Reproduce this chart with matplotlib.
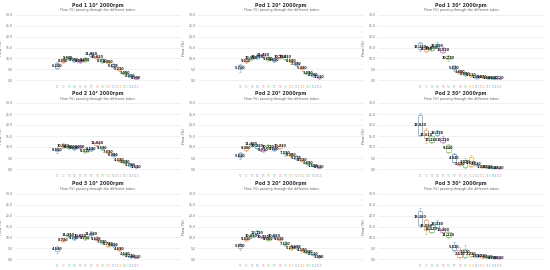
import matplotlib
matplotlib.use("Agg")
import matplotlib.pyplot as plt

plt.rcParams['font.family'] = ['DejaVu Sans']

# ---- data -------------------------------------------------------------
tubes = [f"T{i}" for i in range(1, 16)]
angles = ["10°", "20°", "30°"]
pods = ["Pod 1", "Pod 2", "Pod 3"]

pod1_10_med = [6.28, 8.99, 9.94, 9.05, 8.80, 9.40, 11.86, 10.62, 8.91, 8.35, 6.62, 5.21, 3.05, 2.01, 0.99]
pod1_10_q1 = [5.7, 8.5, 9.5, 8.6, 8.3, 8.9, 11.2, 10.0, 8.4, 7.8, 6.1, 4.7, 2.6, 1.6, 0.7]
pod1_10_q3 = [7.8, 9.6, 10.6, 9.6, 9.3, 10.0, 12.5, 11.3, 9.5, 8.9, 7.2, 5.7, 3.5, 2.4, 1.3]
pod1_10_lo = [4.9, 8.0, 9.1, 8.2, 7.9, 8.5, 10.7, 9.5, 7.9, 7.3, 5.6, 4.2, 2.2, 1.3, 0.5]
pod1_10_hi = [8.5, 10.1, 11.1, 10.1, 9.8, 10.5, 13.1, 11.8, 10.0, 9.4, 7.7, 6.2, 4.0, 2.8, 1.6]

pod1_20_med = [5.76, 9.01, 10.14, 10.76, 11.42, 9.88, 9.31, 10.78, 10.41, 8.62, 7.33, 5.42, 3.23, 2.29, 1.21]
pod1_20_q1 = [4.9, 8.5, 9.7, 10.3, 10.9, 9.4, 8.8, 10.2, 9.9, 8.1, 6.8, 4.9, 2.8, 1.9, 0.9]
pod1_20_q3 = [6.9, 9.5, 10.7, 11.3, 12.0, 10.4, 9.8, 11.4, 11.0, 9.2, 7.9, 6.0, 3.7, 2.7, 1.5]
pod1_20_lo = [3.8, 8.0, 9.2, 9.8, 10.4, 8.9, 8.3, 9.7, 9.4, 7.6, 6.3, 4.4, 2.4, 1.6, 0.6]
pod1_20_hi = [7.6, 10.0, 11.2, 11.8, 12.5, 10.9, 10.3, 11.9, 11.5, 9.7, 8.4, 6.5, 4.1, 3.0, 1.8]

pod1_30_med = [15.35, 14.41, 14.69, 15.80, 13.82, 10.23, 5.63, 3.60, 2.88, 2.11, 1.35, 1.62, 1.04, 0.86, 0.72]
pod1_30_q1 = [14.3, 13.6, 14.0, 15.2, 13.0, 9.5, 5.0, 3.1, 2.4, 1.7, 1.0, 1.3, 0.8, 0.6, 0.5]
pod1_30_q3 = [16.9, 15.3, 15.4, 16.6, 14.8, 11.0, 6.3, 4.1, 3.3, 2.5, 1.7, 1.9, 1.3, 1.1, 0.9]
pod1_30_lo = [13.5, 13.0, 13.5, 14.7, 12.3, 9.0, 4.4, 2.7, 2.0, 1.4, 0.7, 1.0, 0.6, 0.4, 0.3]
pod1_30_hi = [17.6, 15.9, 16.0, 17.4, 15.4, 11.6, 6.8, 4.5, 3.7, 2.9, 2.0, 2.2, 1.6, 1.3, 1.1]

pod2_10_med = [8.55, 10.63, 10.09, 9.63, 9.91, 8.31, 9.13, 11.64, 9.53, 7.61, 6.38, 4.12, 3.03, 1.78, 1.11]
pod2_10_q1 = [8.0, 10.1, 9.6, 9.2, 9.4, 7.8, 8.6, 11.0, 9.0, 7.1, 5.9, 3.6, 2.6, 1.4, 0.8]
pod2_10_q3 = [9.2, 11.2, 10.6, 10.1, 10.4, 8.9, 9.7, 12.3, 10.1, 8.2, 6.9, 4.6, 3.5, 2.2, 1.4]
pod2_10_lo = [7.5, 9.6, 9.1, 8.7, 8.9, 7.3, 8.1, 10.5, 8.5, 6.6, 5.4, 3.1, 2.2, 1.1, 0.6]
pod2_10_hi = [9.7, 11.7, 11.1, 10.6, 10.9, 9.4, 10.2, 12.8, 10.6, 8.7, 7.4, 5.1, 3.9, 2.5, 1.7]

pod2_20_med = [5.84, 9.35, 11.30, 10.23, 8.71, 10.21, 9.12, 10.23, 7.11, 6.38, 5.21, 4.12, 2.63, 1.52, 0.83]
pod2_20_q1 = [5.3, 8.8, 10.8, 9.7, 8.2, 9.7, 8.6, 9.7, 6.6, 5.9, 4.7, 3.6, 2.2, 1.2, 0.5]
pod2_20_q3 = [7.2, 9.9, 11.8, 10.8, 9.2, 10.7, 9.7, 10.8, 7.7, 6.9, 5.7, 4.6, 3.1, 1.9, 1.1]
pod2_20_lo = [4.6, 8.3, 10.3, 9.2, 7.7, 9.2, 8.1, 9.2, 6.1, 5.4, 4.2, 3.1, 1.8, 0.9, 0.3]
pod2_20_hi = [7.8, 10.4, 12.3, 11.3, 9.7, 11.2, 10.2, 11.3, 8.2, 7.4, 6.2, 5.1, 3.5, 2.2, 1.3]

pod2_30_med = [19.83, 15.51, 13.25, 16.33, 13.22, 9.44, 4.93, 2.13, 3.02, 2.81, 2.11, 1.02, 0.83, 0.61, 0.52]
pod2_30_q1 = [15.5, 14.0, 12.5, 15.5, 12.5, 7.9, 3.3, 1.6, 1.0, 1.5, 1.7, 0.7, 0.6, 0.4, 0.3]
pod2_30_q3 = [24.6, 17.8, 14.8, 17.3, 14.3, 11.0, 6.7, 2.6, 4.1, 5.6, 2.5, 1.3, 1.1, 0.8, 0.7]
pod2_30_lo = [14.8, 11.7, 12.0, 15.0, 12.0, 7.4, 2.8, 1.2, 0.6, 1.0, 1.3, 0.5, 0.4, 0.2, 0.1]
pod2_30_hi = [25.4, 18.5, 15.3, 17.8, 14.8, 11.5, 7.2, 3.0, 4.8, 6.4, 2.9, 1.6, 1.3, 1.0, 0.9]

pod3_10_med = [4.53, 8.72, 11.21, 9.73, 10.62, 9.71, 11.68, 9.42, 7.93, 6.71, 6.42, 4.63, 2.13, 1.22, 0.81]
pod3_10_q1 = [3.9, 8.2, 10.7, 9.2, 10.1, 9.2, 11.1, 8.9, 7.4, 6.2, 5.9, 4.1, 1.7, 0.9, 0.5]
pod3_10_q3 = [5.3, 9.3, 11.7, 10.2, 11.1, 10.2, 12.2, 9.9, 8.4, 7.2, 6.9, 5.1, 2.6, 1.6, 1.1]
pod3_10_lo = [2.8, 7.7, 10.2, 8.7, 9.6, 8.7, 10.6, 8.4, 6.9, 5.7, 5.4, 3.6, 1.3, 0.6, 0.3]
pod3_10_hi = [5.8, 9.8, 12.2, 10.7, 11.6, 10.7, 12.7, 10.4, 8.9, 7.7, 7.4, 5.6, 3.0, 1.9, 1.3]

pod3_20_med = [5.95, 9.41, 10.63, 12.19, 10.22, 9.38, 10.62, 9.41, 7.12, 5.23, 5.63, 4.12, 3.03, 2.11, 1.09]
pod3_20_q1 = [5.3, 8.9, 10.1, 11.6, 9.7, 8.9, 10.1, 8.9, 6.6, 4.7, 5.1, 3.6, 2.6, 1.7, 0.8]
pod3_20_q3 = [6.9, 9.9, 11.2, 12.8, 10.7, 9.9, 11.2, 9.9, 7.6, 5.8, 6.1, 4.6, 3.5, 2.5, 1.4]
pod3_20_lo = [4.4, 8.4, 9.6, 11.1, 9.2, 8.4, 9.6, 8.4, 6.1, 4.2, 4.6, 3.1, 2.2, 1.4, 0.6]
pod3_20_hi = [7.5, 10.4, 11.7, 13.3, 11.2, 10.4, 11.7, 10.4, 8.1, 6.3, 6.6, 5.1, 3.9, 2.8, 1.7]

pod3_30_med = [19.30, 15.05, 14.02, 16.33, 13.20, 11.22, 5.61, 2.51, 3.22, 2.21, 1.51, 1.22, 0.81, 0.70, 0.61]
pod3_30_q1 = [15.5, 13.2, 12.5, 15.0, 12.5, 10.0, 4.0, 1.0, 1.0, 1.3, 1.1, 0.9, 0.5, 0.4, 0.3]
pod3_30_q3 = [22.3, 17.8, 15.5, 17.3, 14.0, 12.5, 6.7, 4.1, 4.6, 2.7, 1.9, 1.6, 1.1, 1.0, 0.9]
pod3_30_lo = [14.6, 11.7, 12.0, 14.5, 12.0, 9.5, 3.5, 0.6, 0.6, 0.9, 0.8, 0.6, 0.3, 0.2, 0.1]
pod3_30_hi = [23.6, 18.6, 16.2, 17.8, 14.6, 13.0, 7.7, 5.6, 6.4, 3.1, 2.3, 1.9, 1.4, 1.3, 1.2]

panels = [
    [(pod1_10_med, pod1_10_q1, pod1_10_q3, pod1_10_lo, pod1_10_hi),
     (pod1_20_med, pod1_20_q1, pod1_20_q3, pod1_20_lo, pod1_20_hi),
     (pod1_30_med, pod1_30_q1, pod1_30_q3, pod1_30_lo, pod1_30_hi)],
    [(pod2_10_med, pod2_10_q1, pod2_10_q3, pod2_10_lo, pod2_10_hi),
     (pod2_20_med, pod2_20_q1, pod2_20_q3, pod2_20_lo, pod2_20_hi),
     (pod2_30_med, pod2_30_q1, pod2_30_q3, pod2_30_lo, pod2_30_hi)],
    [(pod3_10_med, pod3_10_q1, pod3_10_q3, pod3_10_lo, pod3_10_hi),
     (pod3_20_med, pod3_20_q1, pod3_20_q3, pod3_20_lo, pod3_20_hi),
     (pod3_30_med, pod3_30_q1, pod3_30_q3, pod3_30_lo, pod3_30_hi)],
]

colors = ['#8eb3d6', '#f3a877', '#86c08a', '#6cbcd8', '#c990cf',
          '#9fcf7e', '#7fa8dc', '#f0a08a', '#8fcfae', '#e6b95c']

# ---- layout (pixels -> figure fractions) -----------------------------
W, H = 550, 270
col_left = [15, 198, 378]
col_width = 166
row_box = [(83.3, 12.8), (172.3, 100.8), (262.3, 191.8)]   # bottom, top
title_y = [5, 94, 184]

fig = plt.figure(figsize=(5.5, 2.7), dpi=100)
fig.patch.set_facecolor('white')

for r in range(3):
    for c in range(3):
        med, q1, q3, lo, hi = panels[r][c]
        bot, top = row_box[r]
        ax = fig.add_axes([col_left[c] / W, 1 - bot / H, col_width / W, (bot - top) / H])

        stats = [dict(med=med[i], q1=q1[i], q3=q3[i], whislo=lo[i], whishi=hi[i], fliers=[])
                 for i in range(len(tubes))]
        pos = list(range(len(tubes)))
        bp = ax.bxp(stats, positions=pos, widths=0.8, patch_artist=True,
                    showfliers=False, capwidths=0.3)
        for i, box in enumerate(bp['boxes']):
            col = colors[i % len(colors)]
            box.set_facecolor('white')
            box.set_edgecolor(col)
            box.set_linewidth(0.6)
            bp['medians'][i].set_color(col)
            bp['medians'][i].set_linewidth(0.5)
            for w in bp['whiskers'][2 * i:2 * i + 2] + bp['caps'][2 * i:2 * i + 2]:
                w.set_color(col)
                w.set_linewidth(0.4)
            ax.text(i, med[i], f"{med[i]:.3f}", ha='center', va='center',
                    fontsize=2.4, fontweight='bold', color='#222222', zorder=5)

        ax.set_xlim(-7.5, 22)
        ax.set_ylim(-1.5, 31)
        yt = [0, 5, 10, 15, 20, 25, 30]
        ax.set_yticks(yt)
        ax.set_yticklabels([f"{v:.1f}" for v in yt])
        ax.set_xticks(pos)
        ax.set_xticklabels(tubes)
        ax.tick_params(axis='both', length=0, labelsize=2.2, pad=1.5, labelcolor='#666666')
        for i, lab in enumerate(ax.get_xticklabels()):
            lab.set_color(colors[i % len(colors)])
        ax.grid(axis='y', color='#e6e6e6', linewidth=0.4)
        ax.set_axisbelow(True)
        for s in ax.spines.values():
            s.set_visible(False)
        ax.set_ylabel("Flow (%)", fontsize=2.6, color='#555555', labelpad=2)

        cx = (col_left[c] + col_width / 2) / W
        fig.text(cx, 1 - title_y[r] / H, f"{pods[r]} {angles[c]} 2000rpm",
                 ha='center', va='center', fontsize=3.4, fontweight='bold', color='#333333')
        fig.text(cx, 1 - (title_y[r] + 5) / H, "Flow (%) passing through the different tubes",
                 ha='center', va='center', fontsize=2.4, color='#666666')

fig.savefig("out.png", dpi=100)
